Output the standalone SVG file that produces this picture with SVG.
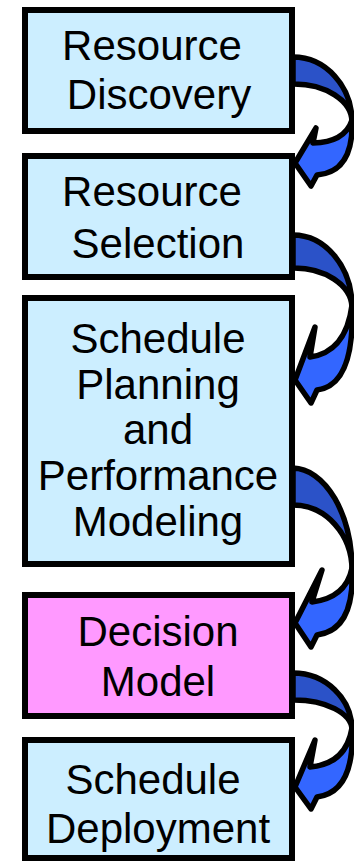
<svg xmlns="http://www.w3.org/2000/svg" width="354" height="861" viewBox="0 0 354 861">
  <style>
    .box { stroke: #000; stroke-width: 6; }
    .blue { fill: #CCEEFF; }
    .pink { fill: #FF99FF; }
    .label { font-family: "Liberation Sans", Arial, sans-serif; font-size: 42px; fill: #000; text-anchor: middle; }
    .back { fill: #2B52C8; stroke: #000; stroke-width: 5.5; stroke-linejoin: round; }
    .front { fill: #3366FF; stroke: #000; stroke-width: 5.5; stroke-linejoin: round; }
  </style>
  <rect width="354" height="861" fill="#fff"/>

  <g id="resource-discovery">
    <rect class="box blue" x="25" y="10" width="267" height="121"/>
    <text class="label" x="152" y="60">Resource</text>
    <text class="label" x="159" y="109">Discovery</text>
  </g>

  <g id="resource-selection">
    <rect class="box blue" x="25" y="156" width="267" height="121"/>
    <text class="label" x="152" y="206">Resource</text>
    <text class="label" x="158" y="258">Selection</text>
  </g>

  <g id="schedule-planning">
    <rect class="box blue" x="25" y="298" width="267" height="266"/>
    <text class="label" x="158" y="353">Schedule</text>
    <text class="label" x="158" y="399">Planning</text>
    <text class="label" x="158" y="444">and</text>
    <text class="label" x="158" y="490">Performance</text>
    <text class="label" x="158" y="536">Modeling</text>
  </g>

  <g id="decision-model">
    <rect class="box pink" x="25" y="595" width="267" height="121"/>
    <text class="label" x="158" y="646">Decision</text>
    <text class="label" x="158" y="696">Model</text>
  </g>

  <g id="schedule-deployment">
    <rect class="box blue" x="25" y="740" width="267" height="118"/>
    <text class="label" x="153" y="794">Schedule</text>
    <text class="label" x="158" y="843">Deployment</text>
  </g>

  <!-- curved arrows: dark back band leaving each box, light front band with head entering the next -->
  <g id="connectors">
    <g id="arrow-1">
      <path class="back" d="M293,57 A59,65 0 0 1 352,122 A58,38 0 0 0 293,84 Z"/>
      <path class="front" d="M352,120 Q354,172 317,175 L311,186 L295,163 L316,128 L313,143 Q345,142 352,120 Z"/>
    </g>
    <g id="arrow-2">
      <path class="back" d="M293,235 A59,72 0 0 1 352,307 A58,40 0 0 0 293,268 Z"/>
      <path class="front" d="M352,305 Q355,385 317,390 L311,403 L295,380 L315,327 L310,357 Q346,352 352,305 Z"/>
    </g>
    <g id="arrow-3">
      <path class="back" d="M293,468 A60,102 0 0 1 352,570 A59,65 0 0 0 293,505 Z"/>
      <path class="front" d="M352,568 Q355,630 317,635 L311,647 L295,623 L322,570 L312,602 Q346,598 352,568 Z"/>
    </g>
    <g id="arrow-4">
      <path class="back" d="M293,673 A59,57 0 0 1 352,730 A58,30 0 0 0 293,700 Z"/>
      <path class="front" d="M352,728 Q355,792 317,797 L311,809 L295,787 L315,740 L310,767 Q346,764 352,728 Z"/>
    </g>
  </g>
</svg>
